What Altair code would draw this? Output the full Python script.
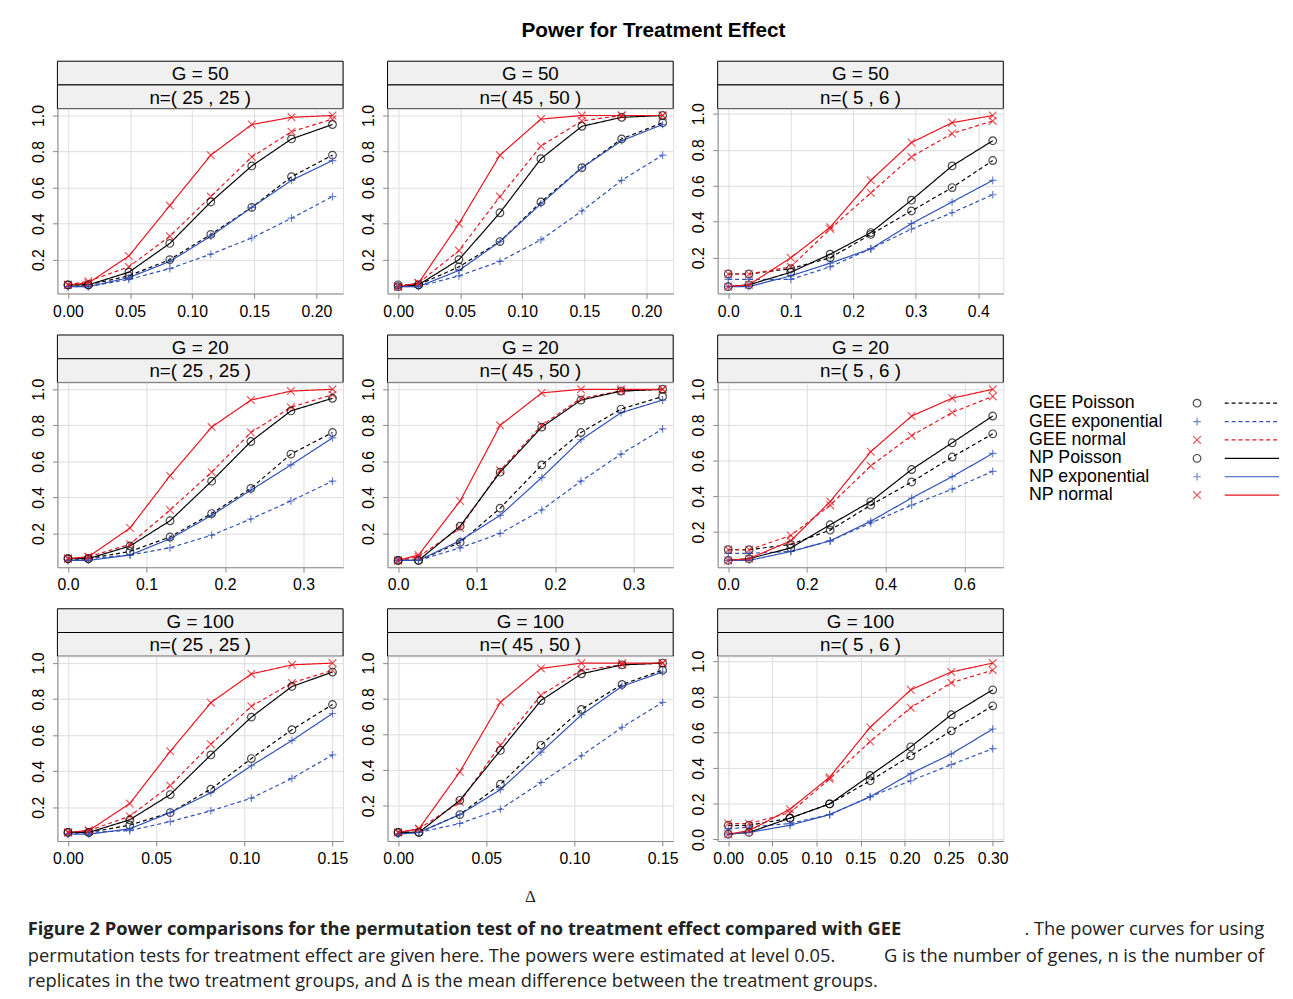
import altair as alt
import pandas as pd

SERIES = ["GEE Poisson", "GEE exponential", "GEE normal", "NP Poisson", "NP exponential", "NP normal"]
COLORS = ["black", "#3050b8", "#e8141e", "black", "#3050b8", "#e8141e"]
PLUS = "M-1,0L1,0M0,-1L0,1"
XSHAPE = "M-1,-1L1,1M-1,1L1,-1"

# x positions (delta) per panel
X_G50 = [0, 0.0164, 0.049, 0.082, 0.115, 0.148, 0.180, 0.213]
X_G50_SMALL = [0, 0.033, 0.1, 0.163, 0.228, 0.293, 0.358, 0.423]
X_G20 = [0, 0.026, 0.079, 0.130, 0.183, 0.233, 0.284, 0.337]
X_G20_SMALL = [0, 0.053, 0.159, 0.259, 0.362, 0.466, 0.569, 0.672]
X_G100 = [0, 0.0118, 0.035, 0.058, 0.081, 0.104, 0.127, 0.15]
X_G100_SMALL = [0, 0.0235, 0.07, 0.115, 0.161, 0.207, 0.253, 0.3]

# power values, order: GEE Poisson, GEE exp, GEE normal, NP Poisson, NP exp, NP normal
P50_25 = [
    [0.06, 0.06, 0.11, 0.20, 0.34, 0.49, 0.66, 0.78],
    [0.05, 0.05, 0.09, 0.15, 0.23, 0.32, 0.43, 0.55],
    [0.06, 0.08, 0.16, 0.33, 0.55, 0.77, 0.91, 0.98],
    [0.06, 0.06, 0.13, 0.29, 0.52, 0.72, 0.87, 0.95],
    [0.05, 0.05, 0.10, 0.19, 0.33, 0.49, 0.64, 0.75],
    [0.06, 0.07, 0.22, 0.50, 0.78, 0.95, 0.99, 1.0],
]
P50_45 = [
    [0.06, 0.06, 0.16, 0.30, 0.52, 0.71, 0.87, 0.96],
    [0.05, 0.05, 0.11, 0.19, 0.31, 0.47, 0.64, 0.78],
    [0.05, 0.07, 0.25, 0.55, 0.83, 0.97, 1.0, 1.0],
    [0.05, 0.06, 0.20, 0.46, 0.76, 0.94, 0.99, 1.0],
    [0.05, 0.05, 0.14, 0.30, 0.51, 0.71, 0.86, 0.95],
    [0.05, 0.07, 0.40, 0.78, 0.98, 1.0, 1.0, 1.0],
]
P50_5 = [
    [0.11, 0.11, 0.14, 0.20, 0.33, 0.46, 0.59, 0.74],
    [0.08, 0.08, 0.08, 0.15, 0.25, 0.36, 0.45, 0.55],
    [0.11, 0.11, 0.15, 0.36, 0.56, 0.76, 0.89, 0.96],
    [0.04, 0.05, 0.12, 0.22, 0.34, 0.52, 0.71, 0.85],
    [0.04, 0.04, 0.10, 0.17, 0.25, 0.39, 0.51, 0.63],
    [0.04, 0.05, 0.20, 0.37, 0.63, 0.84, 0.95, 0.99],
]
P20_25 = [
    [0.06, 0.06, 0.10, 0.18, 0.31, 0.45, 0.64, 0.76],
    [0.05, 0.06, 0.08, 0.12, 0.19, 0.28, 0.38, 0.49],
    [0.06, 0.07, 0.14, 0.33, 0.54, 0.76, 0.90, 0.97],
    [0.06, 0.06, 0.13, 0.27, 0.49, 0.71, 0.88, 0.95],
    [0.05, 0.05, 0.08, 0.17, 0.30, 0.44, 0.58, 0.73],
    [0.06, 0.07, 0.23, 0.52, 0.79, 0.94, 0.99, 1.0],
]
P20_45 = [
    [0.05, 0.05, 0.15, 0.34, 0.58, 0.76, 0.89, 0.96],
    [0.05, 0.05, 0.12, 0.20, 0.33, 0.49, 0.64, 0.78],
    [0.05, 0.07, 0.23, 0.55, 0.80, 0.95, 0.99, 1.0],
    [0.05, 0.05, 0.24, 0.54, 0.79, 0.94, 0.99, 1.0],
    [0.05, 0.05, 0.16, 0.30, 0.51, 0.72, 0.87, 0.94],
    [0.05, 0.08, 0.38, 0.80, 0.98, 1.0, 1.0, 1.0],
]
P20_5 = [
    [0.10, 0.10, 0.13, 0.21, 0.35, 0.48, 0.62, 0.75],
    [0.08, 0.08, 0.09, 0.15, 0.25, 0.35, 0.44, 0.54],
    [0.10, 0.10, 0.18, 0.35, 0.57, 0.74, 0.87, 0.96],
    [0.04, 0.05, 0.11, 0.24, 0.37, 0.55, 0.70, 0.85],
    [0.04, 0.04, 0.09, 0.15, 0.26, 0.39, 0.51, 0.64],
    [0.04, 0.05, 0.15, 0.37, 0.65, 0.85, 0.95, 1.0],
]
P100_25 = [
    [0.06, 0.06, 0.10, 0.17, 0.30, 0.47, 0.63, 0.77],
    [0.05, 0.06, 0.07, 0.12, 0.18, 0.25, 0.36, 0.49],
    [0.06, 0.07, 0.15, 0.32, 0.55, 0.76, 0.89, 0.96],
    [0.06, 0.06, 0.13, 0.27, 0.49, 0.70, 0.87, 0.95],
    [0.05, 0.05, 0.08, 0.17, 0.28, 0.43, 0.57, 0.72],
    [0.06, 0.07, 0.22, 0.51, 0.78, 0.94, 0.99, 1.0],
]
P100_45 = [
    [0.05, 0.05, 0.15, 0.32, 0.54, 0.74, 0.88, 0.96],
    [0.04, 0.05, 0.10, 0.18, 0.33, 0.48, 0.64, 0.78],
    [0.05, 0.07, 0.22, 0.54, 0.82, 0.96, 0.99, 1.0],
    [0.05, 0.05, 0.23, 0.51, 0.79, 0.94, 0.99, 1.0],
    [0.04, 0.05, 0.15, 0.29, 0.50, 0.71, 0.87, 0.95],
    [0.05, 0.07, 0.39, 0.78, 0.97, 1.0, 1.0, 1.0],
]
P100_5 = [
    [0.08, 0.08, 0.12, 0.20, 0.33, 0.47, 0.61, 0.75],
    [0.06, 0.07, 0.09, 0.14, 0.24, 0.33, 0.42, 0.51],
    [0.09, 0.09, 0.15, 0.34, 0.55, 0.74, 0.88, 0.95],
    [0.03, 0.04, 0.12, 0.20, 0.36, 0.52, 0.70, 0.84],
    [0.03, 0.04, 0.08, 0.14, 0.24, 0.37, 0.48, 0.62],
    [0.03, 0.05, 0.17, 0.35, 0.63, 0.84, 0.94, 0.99],
]

ROWS = [
    ("G = 50", [("n=( 25 , 25 )", X_G50, P50_25, [0, 0.05, 0.1, 0.15, 0.2], ".2f"),
                ("n=( 45 , 50 )", X_G50, P50_45, [0, 0.05, 0.1, 0.15, 0.2], ".2f"),
                ("n=( 5 , 6 )", X_G50_SMALL, P50_5, [0, 0.1, 0.2, 0.3, 0.4], ".1f")]),
    ("G = 20", [("n=( 25 , 25 )", X_G20, P20_25, [0, 0.1, 0.2, 0.3], ".1f"),
                ("n=( 45 , 50 )", X_G20, P20_45, [0, 0.1, 0.2, 0.3], ".1f"),
                ("n=( 5 , 6 )", X_G20_SMALL, P20_5, [0, 0.2, 0.4, 0.6], ".1f")]),
    ("G = 100", [("n=( 25 , 25 )", X_G100, P100_25, [0, 0.05, 0.1, 0.15], ".2f"),
                 ("n=( 45 , 50 )", X_G100, P100_45, [0, 0.05, 0.1, 0.15], ".2f"),
                 ("n=( 5 , 6 )", X_G100_SMALL, P100_5, [0, 0.05, 0.1, 0.15, 0.2, 0.25, 0.3], ".2f")]),
]

W, H, SH = 289, 187, 24
FONT = "Liberation Sans"
LS = 16

color_scale = alt.Scale(domain=SERIES, range=COLORS)
dash_scale = alt.Scale(domain=["GEE", "NP"], range=[[4, 3], [1, 0]])
shape_scale = alt.Scale(domain=["Poisson", "exponential", "normal"], range=["circle", PLUS, XSHAPE])


def pad(lo, hi):
    r = hi - lo
    return [lo - 0.04 * r, hi + 0.04 * r]


def strip(text):
    d = pd.DataFrame({"t": [text]})
    box = alt.Chart(d).mark_rect(fill="#f0f0f0", stroke="black", strokeWidth=1).encode(
        x=alt.value(0), x2=alt.value(W), y=alt.value(0), y2=alt.value(SH))
    lab = alt.Chart(d).mark_text(font=FONT, fontSize=19, color="black").encode(
        x=alt.value(W / 2), y=alt.value(SH / 2 + 1), text="t:N")
    return (box + lab).properties(width=W, height=SH)


def panel(g, n, xs, power, ticks, fmt):
    recs = []
    for s, vals in zip(SERIES, power):
        kind, fam = s.split(" ")
        for x, y in zip(xs, vals):
            recs.append({"series": s, "kind": kind, "family": fam, "x": x, "y": y})
    df = pd.DataFrame(recs)
    ys = [v for vals in power for v in vals]
    base = alt.Chart(df).encode(
        x=alt.X("x:Q", title=None, scale=alt.Scale(domain=pad(min(xs), max(xs)), nice=False, zero=False),
                axis=alt.Axis(values=ticks, format=fmt, labelFontSize=LS, labelFont=FONT, labelPadding=5)),
        y=alt.Y("y:Q", title=None, scale=alt.Scale(domain=pad(min(ys), max(ys)), nice=False, zero=False),
                axis=alt.Axis(values=[0, 0.2, 0.4, 0.6, 0.8, 1.0], format=".1f", labelAngle=270,
                              labelAlign="center", labelBaseline="bottom", labelFontSize=LS,
                              labelFont=FONT, labelPadding=6, minExtent=30, maxExtent=30)),
        color=alt.Color("series:N", scale=color_scale, legend=None),
        detail="series:N",
    )
    lines = base.mark_line(strokeWidth=1.2).encode(
        strokeDash=alt.StrokeDash("kind:N", scale=dash_scale, legend=None))
    pts = base.mark_point(filled=False, size=60, strokeWidth=1.2).encode(
        shape=alt.Shape("family:N", scale=shape_scale, legend=None))
    plot = (lines + pts).properties(width=W, height=H)
    return alt.vconcat(strip(g), strip(n), plot, spacing=0, bounds="flush")


def legend():
    d = pd.DataFrame({"series": SERIES, "pos": list(range(len(SERIES))),
                      "kind": [s.split(" ")[0] for s in SERIES],
                      "family": [s.split(" ")[1] for s in SERIES]})
    y = alt.Y("pos:Q", scale=alt.Scale(domain=[0, 5], range=[69, 162]), axis=None)
    txt = alt.Chart(d).mark_text(align="left", font=FONT, fontSize=18, color="black").encode(
        x=alt.value(12), y=y, text="series:N")
    sym = alt.Chart(d).mark_point(filled=False, size=60, strokeWidth=1.2).encode(
        x=alt.value(182), y=y, color=alt.Color("series:N", scale=color_scale, legend=None),
        shape=alt.Shape("family:N", scale=shape_scale, legend=None))
    ln = alt.Chart(d).mark_rule(strokeWidth=1.2).encode(
        x=alt.value(210), x2=alt.value(265), y=y,
        color=alt.Color("series:N", scale=color_scale, legend=None),
        strokeDash=alt.StrokeDash("kind:N", scale=dash_scale, legend=None))
    return (txt + sym + ln).properties(width=265, height=2 * SH + H, view=alt.ViewConfig(stroke=None))


def blank():
    d = pd.DataFrame({"t": [""]})
    return alt.Chart(d).mark_text().encode(x=alt.value(0), y=alt.value(0), text="t:N").properties(
        width=265, height=10, view=alt.ViewConfig(stroke=None))


cells = []
for i, (g, cols) in enumerate(ROWS):
    cells += [panel(g, *c) for c in cols]
    if i == 0:
        cells.append(blank())
    elif i == 1:
        cells.append(legend())
grid = alt.concat(*cells, columns=4, spacing={"row": 14, "column": 8})

CF = "Open Sans"
CS = 18.5
X0 = -30
XR = 1221
parts = [
    ("Δ", 473, 16, "left", "normal", "serif", 17),
    ("Figure 2 Power comparisons for the permutation test of no treatment effect compared with GEE", X0, 48, "left", "bold", CF, CS),
    (". The power curves for using", XR, 48, "right", "normal", CF, CS),
    ("permutation tests for treatment effect are given here. The powers were estimated at level 0.05.", X0, 75, "left", "normal", CF, CS),
    ("G is the number of genes, n is the number of", XR, 75, "right", "normal", CF, CS),
    ("replicates in the two treatment groups, and Δ is the mean difference between the treatment groups.", X0, 101, "left", "normal", CF, CS),
]
layers = []
for t, x, y, al, fw, fnt, fs in parts:
    layers.append(alt.Chart(pd.DataFrame({"t": [t]})).mark_text(
        align=al, fontWeight=fw, font=fnt, fontSize=fs, color="#222").encode(
        x=alt.value(x), y=alt.value(y), text="t:N"))
caption = alt.layer(*layers).properties(width=XR, height=105, view=alt.ViewConfig(stroke=None))

chart = alt.vconcat(grid, caption, spacing=14).properties(
    title=alt.TitleParams("Power for Treatment Effect", font=FONT, fontSize=21, fontWeight="bold",
                          anchor="middle", offset=15),
    padding={"left": 19, "right": 5, "top": 6, "bottom": 5},
).configure_view(stroke="black", strokeWidth=1).configure_axis(
    domain=False, grid=False, tickColor="black", tickSize=6, labelColor="black",
).configure(background="white")

chart.save("out.html", embed_options={"renderer": "svg", "actions": False})
